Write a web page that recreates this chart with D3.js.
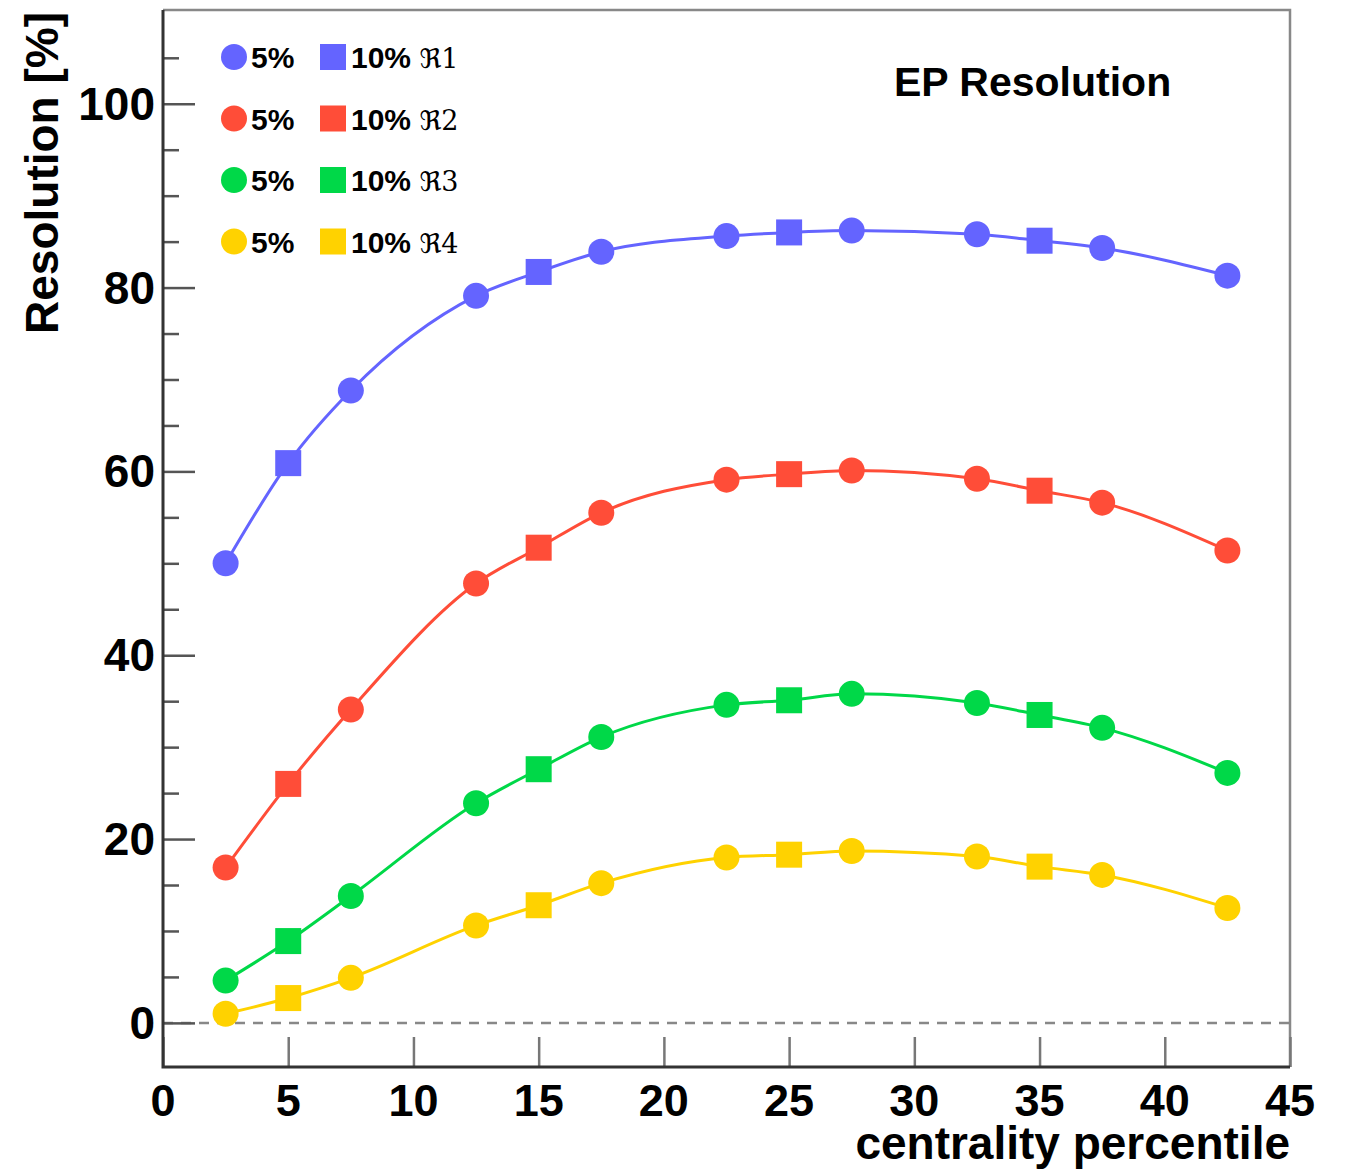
<!DOCTYPE html>
<html>
<head>
<meta charset="utf-8">
<script src="https://cdn.jsdelivr.net/npm/d3@7"></script>
<style>
  body { margin: 0; background: #fff; }
  text { font-family: "Liberation Sans", Arial, sans-serif; font-weight: bold; fill: #000; }
</style>
</head>
<body>
<svg id="chart"></svg>
<script>
// centrality bin centres; circles = 5% bins, squares = 10% bins
const centrality = [2.5, 5, 7.5, 12.5, 15, 17.5, 22.5, 25, 27.5, 32.5, 35, 37.5, 42.5];
const isTenPct = [false, true, false, false, true, false, false, true, false, false, true, false, false];

const res1 = [50.0, 60.9, 68.8, 79.1, 81.7, 83.9, 85.6, 86.0, 86.2, 85.8, 85.1, 84.3, 81.3];
const res2 = [16.9, 26.0, 34.1, 47.8, 51.7, 55.5, 59.1, 59.7, 60.1, 59.2, 57.9, 56.6, 51.4];
const res3 = [4.6, 8.9, 13.8, 23.9, 27.6, 31.1, 34.6, 35.1, 35.8, 34.8, 33.5, 32.1, 27.2];
const res4 = [1.0, 2.7, 4.9, 10.6, 12.8, 15.2, 18.0, 18.3, 18.7, 18.1, 17.0, 16.1, 12.5];

const seriesNames = ['\u211C1', '\u211C2', '\u211C3', '\u211C4'];
const colors = ['#6464ff', '#ff4d38', '#00d848', '#ffd200'];

const xTicks = [0, 5, 10, 15, 20, 25, 30, 35, 40, 45];
const yMajor = [0, 20, 40, 60, 80, 100];

const width = 1345, height = 1171;
const margin = { top: 10, right: 55, bottom: 104, left: 163 };
const innerW = width - margin.left - margin.right;
const innerH = height - margin.top - margin.bottom;

const svg = d3.select('#chart').attr('width', width).attr('height', height);
const g = svg.append('g').attr('transform', `translate(${margin.left},${margin.top})`);

const x = d3.scaleLinear().domain([0, 45]).range([0, innerW]);
const y = d3.scaleLinear().domain([-4.8, 110.2]).range([innerH, 0]);

// frame: top and right in grey
g.append('path')
  .attr('d', `M0,0H${innerW}V${innerH}`)
  .attr('fill', 'none').attr('stroke', '#888').attr('stroke-width', 2.5);

// dashed zero line
g.append('line')
  .attr('x1', 0).attr('x2', innerW)
  .attr('y1', y(0)).attr('y2', y(0))
  .attr('stroke', '#888').attr('stroke-width', 2.5)
  .attr('stroke-dasharray', '10,8');

// y axis, ticks pointing inwards
const yAxis = d3.axisRight(y)
  .tickValues(d3.range(0, 110, 5))
  .tickSize(16)
  .tickSizeOuter(0)
  .tickFormat('');
const yAxisG = g.append('g').call(yAxis);
yAxisG.select('.domain').remove();
yAxisG.selectAll('.tick line')
  .attr('stroke', '#555').attr('stroke-width', 2.5)
  .attr('x2', (d) => (d % 20 === 0 ? 32 : 16));

yAxisG.selectAll('.ylab')
  .data(yMajor)
  .join('text')
  .attr('class', 'ylab')
  .attr('x', -8)
  .attr('y', (d) => y(d) + 16)
  .attr('text-anchor', 'end')
  .style('font-size', '46px')
  .text((d) => d);

// x axis, ticks pointing up
const xAxis = d3.axisTop(x)
  .tickValues(xTicks)
  .tickSize(30)
  .tickSizeOuter(0)
  .tickFormat('');
const xAxisG = g.append('g').attr('transform', `translate(0,${innerH})`).call(xAxis);
xAxisG.select('.domain').remove();
xAxisG.selectAll('.tick line').attr('stroke', '#777').attr('stroke-width', 2.5);

xAxisG.selectAll('.xlab')
  .data(xTicks)
  .join('text')
  .attr('class', 'xlab')
  .attr('x', (d) => x(d))
  .attr('y', 49)
  .attr('text-anchor', 'middle')
  .style('font-size', '45px')
  .text((d) => d);

// left and bottom axis lines, dark
g.append('path')
  .attr('d', `M0,0V${innerH}H${innerW}`)
  .attr('fill', 'none').attr('stroke', '#333').attr('stroke-width', 3);

// axis titles
svg.append('text')
  .attr('transform', 'translate(58,12) rotate(-90)')
  .attr('text-anchor', 'end')
  .style('font-size', '46px')
  .text('Resolution [%]');

svg.append('text')
  .attr('x', margin.left + innerW)
  .attr('y', 1159)
  .attr('text-anchor', 'end')
  .style('font-size', '46px')
  .text('centrality percentile');

svg.append('text')
  .attr('x', 894)
  .attr('y', 96)
  .style('font-size', '41px')
  .text('EP Resolution');

// series
const allSeries = [res1, res2, res3, res4];
const line = d3.line()
  .x((d, i) => x(centrality[i]))
  .y((d) => y(d))
  .curve(d3.curveMonotoneX);

allSeries.forEach((vals, s) => {
  const sg = g.append('g');
  sg.append('path')
    .datum(vals)
    .attr('fill', 'none')
    .attr('stroke', colors[s])
    .attr('stroke-width', 3)
    .attr('d', line);

  const pts = vals.map((v, i) => ({ cx: centrality[i], v, sq: isTenPct[i] }));
  sg.selectAll('circle')
    .data(pts.filter((p) => !p.sq))
    .join('circle')
    .attr('cx', (d) => x(d.cx))
    .attr('cy', (d) => y(d.v))
    .attr('r', 13)
    .attr('fill', colors[s]);
  sg.selectAll('rect')
    .data(pts.filter((p) => p.sq))
    .join('rect')
    .attr('x', (d) => x(d.cx) - 13)
    .attr('y', (d) => y(d.v) - 13)
    .attr('width', 26)
    .attr('height', 26)
    .attr('fill', colors[s]);
});

// legend
const legend = svg.append('g');
seriesNames.forEach((name, s) => {
  const ly = 57 + s * 61.5;
  legend.append('circle').attr('cx', 234).attr('cy', ly).attr('r', 13).attr('fill', colors[s]);
  legend.append('text').attr('x', 251).attr('y', ly + 11).style('font-size', '30px').text('5%');
  legend.append('rect').attr('x', 320).attr('y', ly - 13).attr('width', 26).attr('height', 26).attr('fill', colors[s]);
  const t = legend.append('text').attr('x', 351).attr('y', ly + 11).style('font-size', '30px');
  t.append('tspan').text('10% ');
  t.append('tspan')
    .style('font-weight', 'normal')
    .style('font-family', '"DejaVu Serif", "DejaVu Sans", serif')
    .style('font-size', '27px')
    .text(name);
});
</script>
</body>
</html>
